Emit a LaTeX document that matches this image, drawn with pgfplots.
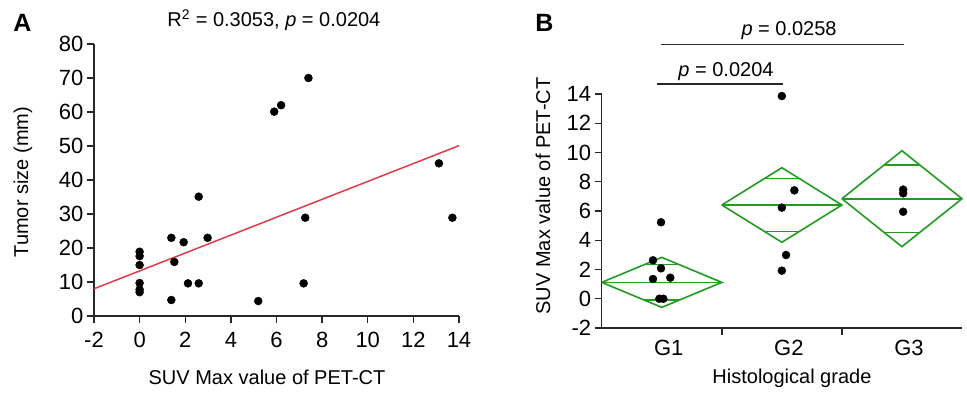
\documentclass[border=0pt]{standalone}
\usepackage{fontspec}
\setmainfont{Liberation Sans}
\usepackage{pgfplots}
\pgfplotsset{compat=1.18}
\definecolor{regred}{RGB}{222,60,75}
\definecolor{dgreen}{RGB}{34,155,34}
\definecolor{axgray}{RGB}{40,40,40}
\begin{document}
\begin{tikzpicture}
\useasboundingbox (0,0) rectangle (967pt,395pt);
\pgfplotsset{
  base/.style={
    axis lines=left, axis line style={-, line width=1.4pt, axgray},
    tick align=outside, major tick length=7pt,
    tick style={line width=1.4pt, axgray},
    enlargelimits=false, clip=false,
    tick label style={font=\fontsize{22}{26}\selectfont},
    label style={font=\fontsize{20}{24}\selectfont},
    /pgf/number format/assume math mode=true,
  }
}
\begin{axis}[base, at={(94pt,79pt)}, anchor=south west,
  x=22.8125pt, y=3.4pt,
  xmin=-2, xmax=14, ymin=0, ymax=80,
  xtick={-2,0,...,14}, ytick={0,10,...,80},
  xticklabel style={yshift=-6pt},
  xlabel={SUV Max value of PET-CT}, ylabel={Tumor size (mm)},
  xlabel style={at={(rel axis cs:0.474,-0.227)}, anchor=center},
  ylabel style={at={(rel axis cs:-0.1945,0.492)}, anchor=center},
  title={R\textsuperscript{2} = 0.3053, \textit{p} = 0.0204},
  title style={at={(rel axis cs:0.493,1.066)}, anchor=center, font=\fontsize{20}{24}\selectfont},
]
\addplot[regred, line width=1.5pt] coordinates {(-2,8.0) (14,50.1)};
\addplot[only marks, mark=*, mark size=4pt, mark options={draw=black, fill=black}] coordinates {
(0,18.9) (0,17.6) (0,15.0) (0,9.7) (0,7.8) (0,7.0)
(1.39,23.0) (1.39,4.7) (1.52,15.9) (1.93,21.7) (2.12,9.6)
(2.59,35.1) (2.59,9.6) (2.98,23.0) (5.2,4.4) (5.9,60.1)
(6.2,62.0) (7.4,70.0) (7.26,28.9) (7.19,9.6) (13.12,44.9) (13.71,28.9)
};
\end{axis}
\begin{axis}[base, at={(601.7pt,67pt)}, anchor=south west,
  x=120.1pt, y=14.625pt,
  xmin=0, xmax=3, ymin=-2, ymax=14,
  ytick={-2,0,...,14}, xtick={1,2}, xticklabels={},
  extra x ticks={0.5,1.5,2.5}, extra x tick labels={G1,G2,G3},
  extra x tick style={major tick length=0pt, xticklabel style={xshift=7pt, yshift=-9pt}},
  xlabel={Histological grade}, ylabel={SUV Max value of PET-CT},
  xlabel style={at={(rel axis cs:0.528,-0.214)}, anchor=center},
  ylabel style={at={(rel axis cs:-0.163,0.564)}, anchor=center},
]
% diamonds
\addplot[dgreen, line width=1.6pt, line join=miter] coordinates {(0,1.12) (0.5,2.83) (1,1.12) (0.5,-0.59) (0,1.12)};
\addplot[dgreen, line width=1.6pt] coordinates {(0,1.12) (1,1.12)};
\addplot[dgreen, line width=1.6pt] coordinates {(0.354,2.33) (0.646,2.33)};
\addplot[dgreen, line width=1.6pt] coordinates {(0.354,-0.09) (0.646,-0.09)};
\addplot[dgreen, line width=1.6pt, line join=miter] coordinates {(1,6.41) (1.5,8.96) (2,6.41) (1.5,3.86) (1,6.41)};
\addplot[dgreen, line width=1.6pt] coordinates {(1,6.41) (2,6.41)};
\addplot[dgreen, line width=1.6pt] coordinates {(1.354,8.21) (1.646,8.21)};
\addplot[dgreen, line width=1.6pt] coordinates {(1.354,4.61) (1.646,4.61)};
\addplot[dgreen, line width=1.6pt, line join=miter] coordinates {(2,6.84) (2.5,10.12) (3,6.84) (2.5,3.56) (2,6.84)};
\addplot[dgreen, line width=1.6pt] coordinates {(2,6.84) (3,6.84)};
\addplot[dgreen, line width=1.6pt] coordinates {(2.354,9.16) (2.646,9.16)};
\addplot[dgreen, line width=1.6pt] coordinates {(2.354,4.52) (2.646,4.52)};
% points
\addplot[only marks, mark=*, mark size=4pt, mark options={draw=black, fill=black}] coordinates {
(0.494,5.23) (0.427,2.63) (0.494,2.08) (0.427,1.35) (0.571,1.44) (0.48,0) (0.513,0)
(1.5,13.86) (1.604,7.41) (1.5,6.23) (1.535,2.99) (1.5,1.92)
(2.51,7.46) (2.51,7.21) (2.51,5.95)
};
% significance bars
\addplot[axgray, line width=1.3pt] coordinates {(0.46,14.68) (1.507,14.68)};
\addplot[axgray, line width=1.3pt] coordinates {(0.491,17.4) (2.517,17.4)};
\node[font=\fontsize{20}{24}\selectfont] at (axis cs:1.035,15.5) {\textit{p} = 0.0204};
\node[font=\fontsize{20}{24}\selectfont] at (axis cs:1.56,18.35) {\textit{p} = 0.0258};
\end{axis}
\node[font=\bfseries\fontsize{25}{30}\selectfont] at (22.5pt,372pt) {A};
\node[font=\bfseries\fontsize{25}{30}\selectfont] at (544.5pt,372pt) {B};
\end{tikzpicture}
\end{document}
